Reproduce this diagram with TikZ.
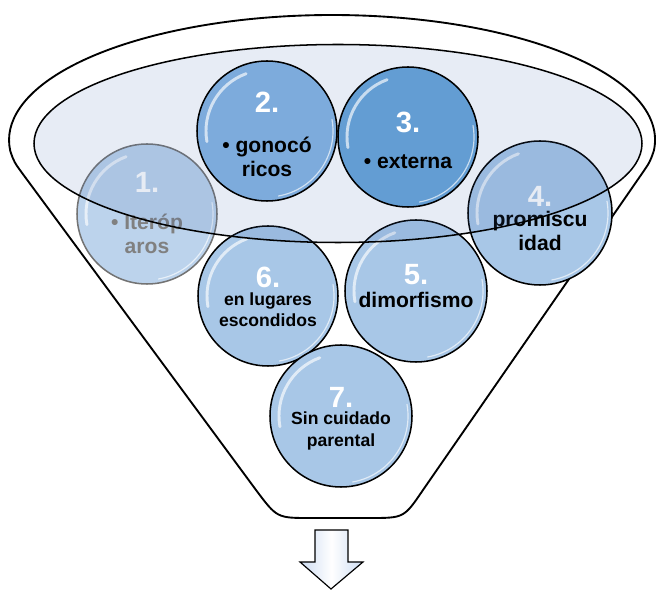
\documentclass[tikz,border=0pt]{standalone}
\usepackage{fontspec}
\setmainfont{Liberation Sans}
\definecolor{rimfill}{RGB}{60,100,170}
\definecolor{ballpale}{RGB}{168,199,231}
\definecolor{ballmid}{RGB}{125,171,220}
\definecolor{balldark}{RGB}{99,157,211}
\definecolor{ballfade}{RGB}{188,211,236}
\definecolor{arrowblue}{RGB}{205,220,242}
\begin{document}
\begin{tikzpicture}[x=0.3mm, y=0.3mm,
        bubble/.style={circle, draw=black, line width=1.3pt, inner sep=0pt},
        gloss/.style={white, line width=2.5pt, opacity=0.65, line cap=round},
        num/.style={text=white, inner sep=0pt, font=\bfseries\fontsize{25}{25}\selectfont},
        lab/.style={align=center, inner sep=0pt, font=\bfseries\fontsize{18}{21}\selectfont},
        labsmall/.style={align=center, inner sep=0pt, font=\bfseries\fontsize{15}{18}\selectfont}]
    \useasboundingbox (0,0) rectangle (659,590);
    % funnel
    \draw[line width=1.6pt] (653.8,439.1) arc[start angle=-5, end angle=185, x radius=323, y radius=125]
        .. controls (14,428) .. (24.3,414) -- (256,100) .. controls (277,72) .. (310,72)
        -- (370,72) .. controls (404,72) .. (423,100) -- (640.3,414) .. controls (650,428) .. cycle;
    % bubbles behind the rim
    \node[bubble, draw=black!55, fill=ballfade, minimum size=42mm] (b1) at (147,376) {};
    \foreach \i/\x/\y/\r in {4/540/377/72, 5/416/299/71, 6/268/294/70, 7/341/174/71}
        \node[bubble, fill=ballpale, minimum size=2*\r*0.3mm] (b\i) at (\x,\y) {};
    \foreach \x/\y/\r in {147/376/70, 540/377/72, 416/299/71, 268/294/70, 341/174/71} {
        \draw[gloss] (\x,\y) ++(110:\r-9) arc[start angle=110, end angle=190, radius=\r-9];
        \draw[gloss, line width=1pt] (\x,\y) ++(-80:\r-4) arc[start angle=-80, end angle=10, radius=\r-4];
    }
    \node[num] (n1) at (147,408) {1.};
    \node[lab, text=black!50] (t1) at (147,356) {• Iteróp\\aros};
    \node[num] (n4) at (540,394) {4.};
    \node[lab] (t4) at (540,359) {promiscu\\idad};
    \node[num] (n5) at (416,315) {5.};
    \node[lab] (t5) at (416,290) {dimorfismo};
    \node[num] (n6) at (268,313) {6.};
    \node[labsmall] (t6) at (268,280) {en lugares\\escondidos};
    \node[num] (n7) at (341,193) {7.};
    \node[labsmall] (t7) at (341,159) {Sin cuidado\\parental};
    % rim
    \draw[line width=1.3pt, fill=rimfill, fill opacity=0.12] (338,446.5) ellipse[x radius=304, y radius=99];
    % bubbles on top
    \node[bubble, fill=ballmid, minimum size=42mm] (b2) at (267,459) {};
    \node[bubble, fill=balldark, minimum size=42mm] (b3) at (408,453) {};
    \foreach \x/\y in {267/459, 408/453} {
        \draw[gloss] (\x,\y) ++(110:61) arc[start angle=110, end angle=190, radius=61];
        \draw[gloss, line width=1pt] (\x,\y) ++(-80:66) arc[start angle=-80, end angle=10, radius=66];
    }
    \node[num] (n2) at (267,488) {2.};
    \node[lab] (t2) at (267,433) {• gonocó\\ricos};
    \node[num] (n3) at (408,468) {3.};
    \node[lab] (t3) at (408,428) {• externa};
    % arrow
    \draw[line width=1pt, left color=arrowblue, right color=arrowblue, middle color=white]
        (315,60) -- (348,60) -- (348,28) -- (363,28) -- (331,1) -- (300,28) -- (315,28) -- cycle;
\end{tikzpicture}
\end{document}
